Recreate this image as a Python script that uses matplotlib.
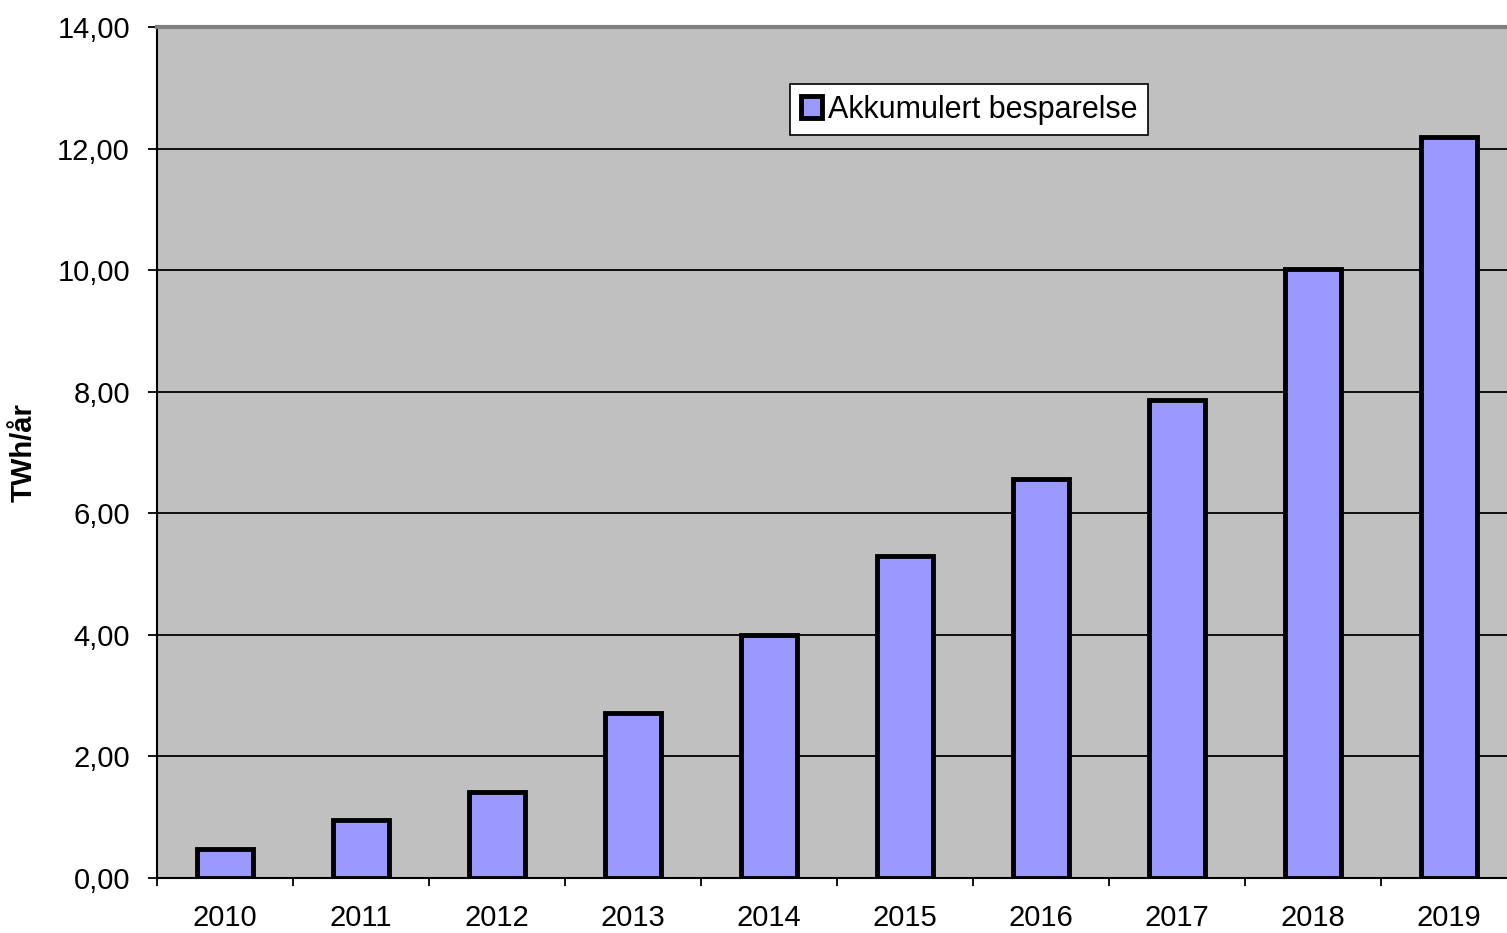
import matplotlib.pyplot as plt
import numpy as np

years = ['2010', '2011', '2012', '2013', '2014', '2015', '2016', '2017', '2018', '2019']
savings = [0.48, 0.95, 1.41, 2.71, 4.00, 5.30, 6.56, 7.86, 10.02, 12.19]

plt.rcParams['font.family'] = ['Liberation Sans', 'DejaVu Sans']

fig = plt.figure(figsize=(15.07, 9.33), dpi=100)
ax = fig.add_axes([157 / 1507, 1 - 878 / 933, 1360 / 1507, 851 / 933])
ax.set_facecolor('#C0C0C0')

x = np.arange(len(years))
ax.bar(x, savings, width=0.41, color='#9999FF', edgecolor='black', linewidth=3.5,
       label='Akkumulert besparelse', zorder=3)

ax.set_xlim(-0.5, len(years) - 0.5)
ax.set_ylim(0, 14)
ax.set_yticks(np.arange(0, 15, 2))
ax.set_yticklabels([f'{v:.2f}'.replace('.', ',') for v in np.arange(0, 15, 2)], fontsize=21)
ax.yaxis.grid(True, color='black', linewidth=1.3, zorder=1)
ax.set_axisbelow(True)

ax.set_xticks(x)
ax.set_xticklabels(years, fontsize=21)
ax.set_xticks(np.arange(-0.5, len(years)), minor=True)
ax.tick_params(axis='x', which='major', length=0, pad=19)
ax.tick_params(axis='x', which='minor', length=6, width=1.3, color='black')
ax.tick_params(axis='y', length=6.5, width=1.3, pad=13)

ax.set_ylabel('TWh/år', fontsize=21, fontweight='bold')
ax.yaxis.set_label_coords(-119 / 1360, 0.5)

for s in ['left', 'bottom']:
    ax.spines[s].set_linewidth(1.5)
    ax.spines[s].set_color('black')
ax.spines['top'].set_color('#808080')
ax.spines['top'].set_linewidth(3)
ax.spines['right'].set_visible(False)

leg = ax.legend(loc='upper left', bbox_to_anchor=((790 - 157) / 1360, (878 - 84) / 851),
                fontsize=22, frameon=True, fancybox=False, borderpad=0.35,
                handlelength=0.7, handleheight=0.7, handletextpad=0.2, borderaxespad=0)
leg.get_frame().set_edgecolor('black')
leg.get_frame().set_linewidth(1.2)
leg.get_frame().set_facecolor('white')
leg.get_frame().set_alpha(1)

fig.savefig('out.png', dpi=100)
